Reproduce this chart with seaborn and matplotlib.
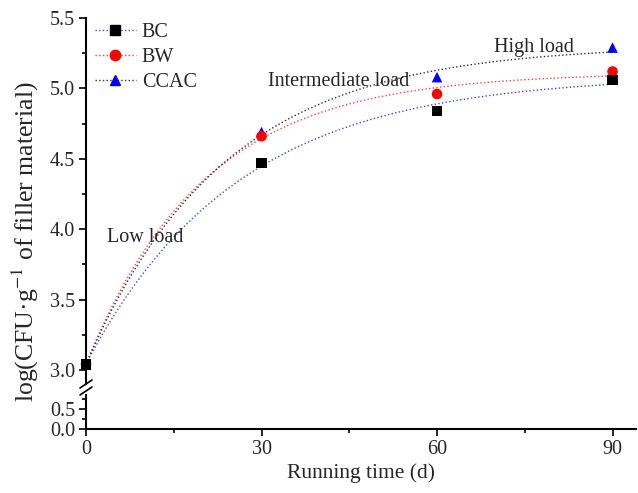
import numpy as np
import pandas as pd
import matplotlib
matplotlib.use('Agg')
import matplotlib.pyplot as plt
from matplotlib.lines import Line2D
from matplotlib.ticker import MultipleLocator
import seaborn as sns

# data
days = [0, 30, 60, 90]
bc = [3.04, 4.47, 4.84, 5.06]
bw = [3.04, 4.66, 4.96, 5.12]
ccac = [3.04, 4.69, 5.08, 5.29]
series_names = ['BC', 'BW', 'CCAC']
load_labels = ['Low load', 'Intermediate load', 'High load']
load_x = [10.2, 43.2, 76.5]
load_y = [3.94, 5.05, 5.29]

sns.set_style('ticks')
plt.rcParams['font.family'] = ['Liberation Serif', 'DejaVu Serif']
plt.rcParams['mathtext.fontset'] = 'stix'


def exp_fit(x, y):
    # y = a - b*exp(-k x), least squares over a grid of k
    x = np.asarray(x, float)
    y = np.asarray(y, float)
    best = None
    for k in np.linspace(0.002, 0.2, 2000):
        A = np.column_stack([np.ones_like(x), -np.exp(-k * x)])
        coef, *_ = np.linalg.lstsq(A, y, rcond=None)
        sse = np.sum((A @ coef - y) ** 2)
        if best is None or sse < best[0]:
            best = (sse, coef[0], coef[1], k)
    return best[1:]


# BC last so its squares sit on top, as in the original
pts = pd.DataFrame({
    'day': days * 3,
    'value': ccac + bw + bc,
    'material': np.repeat(['CCAC', 'BW', 'BC'], len(days)),
})

xs = np.linspace(0, 90, 200)
curves = []
for name, vals in zip(series_names, [bc, bw, ccac]):
    a, b, k = exp_fit(days, vals)
    curves.append(pd.DataFrame({'day': xs, 'value': a - b * np.exp(-k * xs), 'material': name}))
curves = pd.concat(curves)

line_cols = {'BC': '#4040ff', 'BW': '#ff4040', 'CCAC': '#303030'}
mark_cols = {'BC': 'black', 'BW': 'red', 'CCAC': 'blue'}
markers = {'BC': 's', 'BW': 'o', 'CCAC': '^'}

fig = plt.figure(figsize=(6.38, 4.93), dpi=100)
ax = fig.add_axes([0.1348, 0.221, 0.862, 0.7425])
ax2 = fig.add_axes([0.1348, 0.1298, 0.862, 0.069], sharex=ax)

sns.lineplot(data=curves, x='day', y='value', hue='material', palette=line_cols,
             linestyle=':', linewidth=1.0, legend=False, ax=ax)
sns.scatterplot(data=pts, x='day', y='value', hue='material', style='material',
                palette=mark_cols, markers=markers, s=58, edgecolor='none',
                legend=False, ax=ax, zorder=5, clip_on=False)

ax.set_ylim(2.9, 5.5)
ax.yaxis.set_major_locator(MultipleLocator(0.5))
ax.yaxis.set_minor_locator(MultipleLocator(0.25))
ax.set_xlim(0, 94)
ax.spines[['top', 'right', 'bottom']].set_visible(False)
ax.tick_params(axis='x', which='both', bottom=False, labelbottom=False)
ax.set_xlabel('')
ax.set_ylabel('')

ax2.set_ylim(0, 0.85)
ax2.set_yticks([0.0, 0.5])
ax2.yaxis.set_minor_locator(MultipleLocator(0.25))
ax2.set_xticks([0, 30, 60, 90])
ax2.xaxis.set_minor_locator(MultipleLocator(15))
ax2.spines[['top', 'right']].set_visible(False)
ax2.set_xlabel('Running time (d)', fontsize=15.5, labelpad=3)

for a_ in (ax, ax2):
    a_.tick_params(which='major', length=5, width=1.2, labelsize=14.5, color='black', pad=3)
    a_.tick_params(which='minor', length=3, width=1.2, color='black')
    for s in a_.spines.values():
        s.set_linewidth(1.5)
        s.set_color('black')
    a_.patch.set_alpha(0)

# break marks on the y axis
for yb in (380, 387):
    fig.add_artist(Line2D([80 / 638, 92 / 638], [1 - (yb + 8) / 493, 1 - yb / 493],
                          color='black', linewidth=1.2))

fig.text(25 / 638, 1 - 242 / 493, 'log(CFU·g$^{-1}$ of filler material)',
         rotation=90, ha='center', va='center', fontsize=18.5)

for t, x, y in zip(load_labels, load_x, load_y):
    ax.text(x, y, t, ha='center', va='center', fontsize=14.5)

handles = [Line2D([0], [0], color=line_cols[n], linestyle=':', linewidth=1.0,
                  marker=markers[n], markerfacecolor=mark_cols[n],
                  markeredgecolor=mark_cols[n], markersize=7.5)
           for n in series_names]
ax.legend(handles, series_names, loc='upper left', bbox_to_anchor=(-0.005, 1.02),
          frameon=False, fontsize=14.5, handlelength=2.0, labelspacing=0.3,
          borderaxespad=0.2, handletextpad=0.3)

fig.savefig('out.png', dpi=100)
